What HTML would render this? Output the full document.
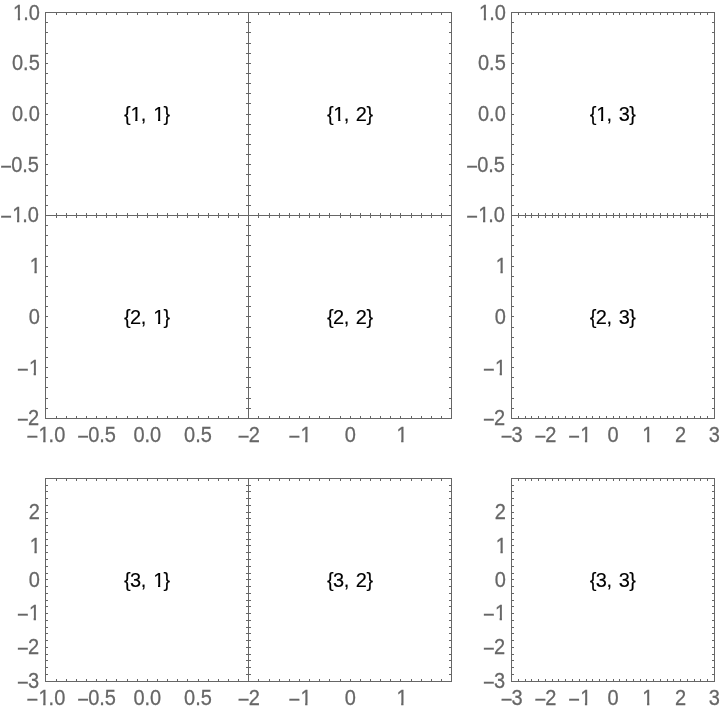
<!DOCTYPE html>
<html><head><meta charset="utf-8"><title>plot grid</title>
<style>
html,body{margin:0;padding:0;background:#fff;}
body{width:720px;height:710px;position:relative;overflow:hidden;font-family:"Liberation Sans",sans-serif;}
#g{position:absolute;left:0;top:0;width:720px;height:710px;will-change:transform;}
#g i{position:absolute;display:block;background:#666666;}
.t{position:absolute;font-size:20px;line-height:20px;height:20px;white-space:pre;color:#666666;}
.yl{text-align:right;transform-origin:50% 10px;-webkit-text-stroke:0.25px #666666;}
.xl{width:100px;text-align:center;transform-origin:50% 17px;-webkit-text-stroke:0.25px #666666;}
.o{display:inline-block;clip-path:polygon(0 0,100% 0,100% 15.2px,7.05px 15.2px,7.05px 100%,4.8px 100%,4.8px 15.2px,0 15.2px);}
.yl .o,.xl .o{position:relative;left:1px;}
.cl .o{position:relative;left:0.3px;}
.m{position:relative;margin-right:-0.8px;}
.yl .m{top:2px;}
.xl .m{top:2px;}
.cl{width:100px;text-align:center;color:#000;-webkit-text-stroke:0.15px #000;letter-spacing:-0.55px;word-spacing:2.2px;transform:scaleY(1.05);transform-origin:50% 20px;}
</style></head>
<body>
<div id="g">
<i style="left:45px;top:12px;width:1px;height:407px"></i><i style="left:248px;top:12px;width:1px;height:407px"></i><i style="left:451px;top:12px;width:1px;height:407px"></i><i style="left:511px;top:12px;width:1px;height:407px"></i><i style="left:714px;top:12px;width:1px;height:407px"></i><i style="left:45px;top:478px;width:1px;height:204px"></i><i style="left:248px;top:478px;width:1px;height:204px"></i><i style="left:451px;top:478px;width:1px;height:204px"></i><i style="left:511px;top:478px;width:1px;height:204px"></i><i style="left:714px;top:478px;width:1px;height:204px"></i><i style="left:45px;top:12px;width:407px;height:1px"></i><i style="left:45px;top:215px;width:407px;height:1px"></i><i style="left:45px;top:418px;width:407px;height:1px"></i><i style="left:45px;top:478px;width:407px;height:1px"></i><i style="left:45px;top:681px;width:407px;height:1px"></i><i style="left:511px;top:12px;width:204px;height:1px"></i><i style="left:511px;top:215px;width:204px;height:1px"></i><i style="left:511px;top:418px;width:204px;height:1px"></i><i style="left:511px;top:478px;width:204px;height:1px"></i><i style="left:511px;top:681px;width:204px;height:1px"></i><i style="left:56px;top:13px;width:1px;height:2px"></i><i style="left:56px;top:213px;width:1px;height:2px"></i><i style="left:66px;top:13px;width:1px;height:2px"></i><i style="left:66px;top:213px;width:1px;height:2px"></i><i style="left:76px;top:13px;width:1px;height:2px"></i><i style="left:76px;top:213px;width:1px;height:2px"></i><i style="left:86px;top:13px;width:1px;height:2px"></i><i style="left:86px;top:213px;width:1px;height:2px"></i><i style="left:96px;top:13px;width:1px;height:2px"></i><i style="left:96px;top:213px;width:1px;height:2px"></i><i style="left:106px;top:13px;width:1px;height:2px"></i><i style="left:106px;top:213px;width:1px;height:2px"></i><i style="left:116px;top:13px;width:1px;height:2px"></i><i style="left:116px;top:213px;width:1px;height:2px"></i><i style="left:127px;top:13px;width:1px;height:2px"></i><i style="left:127px;top:213px;width:1px;height:2px"></i><i style="left:137px;top:13px;width:1px;height:2px"></i><i style="left:137px;top:213px;width:1px;height:2px"></i><i style="left:147px;top:13px;width:1px;height:2px"></i><i style="left:147px;top:213px;width:1px;height:2px"></i><i style="left:157px;top:13px;width:1px;height:2px"></i><i style="left:157px;top:213px;width:1px;height:2px"></i><i style="left:167px;top:13px;width:1px;height:2px"></i><i style="left:167px;top:213px;width:1px;height:2px"></i><i style="left:177px;top:13px;width:1px;height:2px"></i><i style="left:177px;top:213px;width:1px;height:2px"></i><i style="left:187px;top:13px;width:1px;height:2px"></i><i style="left:187px;top:213px;width:1px;height:2px"></i><i style="left:198px;top:13px;width:1px;height:2px"></i><i style="left:198px;top:213px;width:1px;height:2px"></i><i style="left:208px;top:13px;width:1px;height:2px"></i><i style="left:208px;top:213px;width:1px;height:2px"></i><i style="left:218px;top:13px;width:1px;height:2px"></i><i style="left:218px;top:213px;width:1px;height:2px"></i><i style="left:228px;top:13px;width:1px;height:2px"></i><i style="left:228px;top:213px;width:1px;height:2px"></i><i style="left:238px;top:13px;width:1px;height:2px"></i><i style="left:238px;top:213px;width:1px;height:2px"></i><i style="left:46px;top:22px;width:2px;height:1px"></i><i style="left:246px;top:22px;width:2px;height:1px"></i><i style="left:46px;top:32px;width:2px;height:1px"></i><i style="left:246px;top:32px;width:2px;height:1px"></i><i style="left:46px;top:43px;width:2px;height:1px"></i><i style="left:246px;top:43px;width:2px;height:1px"></i><i style="left:46px;top:53px;width:2px;height:1px"></i><i style="left:246px;top:53px;width:2px;height:1px"></i><i style="left:46px;top:63px;width:2px;height:1px"></i><i style="left:246px;top:63px;width:2px;height:1px"></i><i style="left:46px;top:73px;width:2px;height:1px"></i><i style="left:246px;top:73px;width:2px;height:1px"></i><i style="left:46px;top:83px;width:2px;height:1px"></i><i style="left:246px;top:83px;width:2px;height:1px"></i><i style="left:46px;top:93px;width:2px;height:1px"></i><i style="left:246px;top:93px;width:2px;height:1px"></i><i style="left:46px;top:103px;width:2px;height:1px"></i><i style="left:246px;top:103px;width:2px;height:1px"></i><i style="left:46px;top:114px;width:2px;height:1px"></i><i style="left:246px;top:114px;width:2px;height:1px"></i><i style="left:46px;top:124px;width:2px;height:1px"></i><i style="left:246px;top:124px;width:2px;height:1px"></i><i style="left:46px;top:134px;width:2px;height:1px"></i><i style="left:246px;top:134px;width:2px;height:1px"></i><i style="left:46px;top:144px;width:2px;height:1px"></i><i style="left:246px;top:144px;width:2px;height:1px"></i><i style="left:46px;top:154px;width:2px;height:1px"></i><i style="left:246px;top:154px;width:2px;height:1px"></i><i style="left:46px;top:164px;width:2px;height:1px"></i><i style="left:246px;top:164px;width:2px;height:1px"></i><i style="left:46px;top:174px;width:2px;height:1px"></i><i style="left:246px;top:174px;width:2px;height:1px"></i><i style="left:46px;top:185px;width:2px;height:1px"></i><i style="left:246px;top:185px;width:2px;height:1px"></i><i style="left:46px;top:195px;width:2px;height:1px"></i><i style="left:246px;top:195px;width:2px;height:1px"></i><i style="left:46px;top:205px;width:2px;height:1px"></i><i style="left:246px;top:205px;width:2px;height:1px"></i><i style="left:258px;top:13px;width:1px;height:2px"></i><i style="left:258px;top:213px;width:1px;height:2px"></i><i style="left:269px;top:13px;width:1px;height:2px"></i><i style="left:269px;top:213px;width:1px;height:2px"></i><i style="left:279px;top:13px;width:1px;height:2px"></i><i style="left:279px;top:213px;width:1px;height:2px"></i><i style="left:289px;top:13px;width:1px;height:2px"></i><i style="left:289px;top:213px;width:1px;height:2px"></i><i style="left:299px;top:13px;width:1px;height:2px"></i><i style="left:299px;top:213px;width:1px;height:2px"></i><i style="left:309px;top:13px;width:1px;height:2px"></i><i style="left:309px;top:213px;width:1px;height:2px"></i><i style="left:319px;top:13px;width:1px;height:2px"></i><i style="left:319px;top:213px;width:1px;height:2px"></i><i style="left:329px;top:13px;width:1px;height:2px"></i><i style="left:329px;top:213px;width:1px;height:2px"></i><i style="left:340px;top:13px;width:1px;height:2px"></i><i style="left:340px;top:213px;width:1px;height:2px"></i><i style="left:350px;top:13px;width:1px;height:2px"></i><i style="left:350px;top:213px;width:1px;height:2px"></i><i style="left:360px;top:13px;width:1px;height:2px"></i><i style="left:360px;top:213px;width:1px;height:2px"></i><i style="left:370px;top:13px;width:1px;height:2px"></i><i style="left:370px;top:213px;width:1px;height:2px"></i><i style="left:380px;top:13px;width:1px;height:2px"></i><i style="left:380px;top:213px;width:1px;height:2px"></i><i style="left:390px;top:13px;width:1px;height:2px"></i><i style="left:390px;top:213px;width:1px;height:2px"></i><i style="left:400px;top:13px;width:1px;height:2px"></i><i style="left:400px;top:213px;width:1px;height:2px"></i><i style="left:411px;top:13px;width:1px;height:2px"></i><i style="left:411px;top:213px;width:1px;height:2px"></i><i style="left:421px;top:13px;width:1px;height:2px"></i><i style="left:421px;top:213px;width:1px;height:2px"></i><i style="left:431px;top:13px;width:1px;height:2px"></i><i style="left:431px;top:213px;width:1px;height:2px"></i><i style="left:441px;top:13px;width:1px;height:2px"></i><i style="left:441px;top:213px;width:1px;height:2px"></i><i style="left:249px;top:22px;width:2px;height:1px"></i><i style="left:449px;top:22px;width:2px;height:1px"></i><i style="left:249px;top:32px;width:2px;height:1px"></i><i style="left:449px;top:32px;width:2px;height:1px"></i><i style="left:249px;top:43px;width:2px;height:1px"></i><i style="left:449px;top:43px;width:2px;height:1px"></i><i style="left:249px;top:53px;width:2px;height:1px"></i><i style="left:449px;top:53px;width:2px;height:1px"></i><i style="left:249px;top:63px;width:2px;height:1px"></i><i style="left:449px;top:63px;width:2px;height:1px"></i><i style="left:249px;top:73px;width:2px;height:1px"></i><i style="left:449px;top:73px;width:2px;height:1px"></i><i style="left:249px;top:83px;width:2px;height:1px"></i><i style="left:449px;top:83px;width:2px;height:1px"></i><i style="left:249px;top:93px;width:2px;height:1px"></i><i style="left:449px;top:93px;width:2px;height:1px"></i><i style="left:249px;top:103px;width:2px;height:1px"></i><i style="left:449px;top:103px;width:2px;height:1px"></i><i style="left:249px;top:114px;width:2px;height:1px"></i><i style="left:449px;top:114px;width:2px;height:1px"></i><i style="left:249px;top:124px;width:2px;height:1px"></i><i style="left:449px;top:124px;width:2px;height:1px"></i><i style="left:249px;top:134px;width:2px;height:1px"></i><i style="left:449px;top:134px;width:2px;height:1px"></i><i style="left:249px;top:144px;width:2px;height:1px"></i><i style="left:449px;top:144px;width:2px;height:1px"></i><i style="left:249px;top:154px;width:2px;height:1px"></i><i style="left:449px;top:154px;width:2px;height:1px"></i><i style="left:249px;top:164px;width:2px;height:1px"></i><i style="left:449px;top:164px;width:2px;height:1px"></i><i style="left:249px;top:174px;width:2px;height:1px"></i><i style="left:449px;top:174px;width:2px;height:1px"></i><i style="left:249px;top:185px;width:2px;height:1px"></i><i style="left:449px;top:185px;width:2px;height:1px"></i><i style="left:249px;top:195px;width:2px;height:1px"></i><i style="left:449px;top:195px;width:2px;height:1px"></i><i style="left:249px;top:205px;width:2px;height:1px"></i><i style="left:449px;top:205px;width:2px;height:1px"></i><i style="left:518px;top:13px;width:1px;height:2px"></i><i style="left:518px;top:213px;width:1px;height:2px"></i><i style="left:525px;top:13px;width:1px;height:2px"></i><i style="left:525px;top:213px;width:1px;height:2px"></i><i style="left:531px;top:13px;width:1px;height:2px"></i><i style="left:531px;top:213px;width:1px;height:2px"></i><i style="left:538px;top:13px;width:1px;height:2px"></i><i style="left:538px;top:213px;width:1px;height:2px"></i><i style="left:545px;top:13px;width:1px;height:2px"></i><i style="left:545px;top:213px;width:1px;height:2px"></i><i style="left:552px;top:13px;width:1px;height:2px"></i><i style="left:552px;top:213px;width:1px;height:2px"></i><i style="left:558px;top:13px;width:1px;height:2px"></i><i style="left:558px;top:213px;width:1px;height:2px"></i><i style="left:565px;top:13px;width:1px;height:2px"></i><i style="left:565px;top:213px;width:1px;height:2px"></i><i style="left:572px;top:13px;width:1px;height:2px"></i><i style="left:572px;top:213px;width:1px;height:2px"></i><i style="left:579px;top:13px;width:1px;height:2px"></i><i style="left:579px;top:213px;width:1px;height:2px"></i><i style="left:586px;top:13px;width:1px;height:2px"></i><i style="left:586px;top:213px;width:1px;height:2px"></i><i style="left:592px;top:13px;width:1px;height:2px"></i><i style="left:592px;top:213px;width:1px;height:2px"></i><i style="left:599px;top:13px;width:1px;height:2px"></i><i style="left:599px;top:213px;width:1px;height:2px"></i><i style="left:606px;top:13px;width:1px;height:2px"></i><i style="left:606px;top:213px;width:1px;height:2px"></i><i style="left:613px;top:13px;width:1px;height:2px"></i><i style="left:613px;top:213px;width:1px;height:2px"></i><i style="left:619px;top:13px;width:1px;height:2px"></i><i style="left:619px;top:213px;width:1px;height:2px"></i><i style="left:626px;top:13px;width:1px;height:2px"></i><i style="left:626px;top:213px;width:1px;height:2px"></i><i style="left:633px;top:13px;width:1px;height:2px"></i><i style="left:633px;top:213px;width:1px;height:2px"></i><i style="left:640px;top:13px;width:1px;height:2px"></i><i style="left:640px;top:213px;width:1px;height:2px"></i><i style="left:646px;top:13px;width:1px;height:2px"></i><i style="left:646px;top:213px;width:1px;height:2px"></i><i style="left:653px;top:13px;width:1px;height:2px"></i><i style="left:653px;top:213px;width:1px;height:2px"></i><i style="left:660px;top:13px;width:1px;height:2px"></i><i style="left:660px;top:213px;width:1px;height:2px"></i><i style="left:667px;top:13px;width:1px;height:2px"></i><i style="left:667px;top:213px;width:1px;height:2px"></i><i style="left:673px;top:13px;width:1px;height:2px"></i><i style="left:673px;top:213px;width:1px;height:2px"></i><i style="left:680px;top:13px;width:1px;height:2px"></i><i style="left:680px;top:213px;width:1px;height:2px"></i><i style="left:687px;top:13px;width:1px;height:2px"></i><i style="left:687px;top:213px;width:1px;height:2px"></i><i style="left:694px;top:13px;width:1px;height:2px"></i><i style="left:694px;top:213px;width:1px;height:2px"></i><i style="left:700px;top:13px;width:1px;height:2px"></i><i style="left:700px;top:213px;width:1px;height:2px"></i><i style="left:707px;top:13px;width:1px;height:2px"></i><i style="left:707px;top:213px;width:1px;height:2px"></i><i style="left:512px;top:22px;width:2px;height:1px"></i><i style="left:712px;top:22px;width:2px;height:1px"></i><i style="left:512px;top:32px;width:2px;height:1px"></i><i style="left:712px;top:32px;width:2px;height:1px"></i><i style="left:512px;top:43px;width:2px;height:1px"></i><i style="left:712px;top:43px;width:2px;height:1px"></i><i style="left:512px;top:53px;width:2px;height:1px"></i><i style="left:712px;top:53px;width:2px;height:1px"></i><i style="left:512px;top:63px;width:2px;height:1px"></i><i style="left:712px;top:63px;width:2px;height:1px"></i><i style="left:512px;top:73px;width:2px;height:1px"></i><i style="left:712px;top:73px;width:2px;height:1px"></i><i style="left:512px;top:83px;width:2px;height:1px"></i><i style="left:712px;top:83px;width:2px;height:1px"></i><i style="left:512px;top:93px;width:2px;height:1px"></i><i style="left:712px;top:93px;width:2px;height:1px"></i><i style="left:512px;top:103px;width:2px;height:1px"></i><i style="left:712px;top:103px;width:2px;height:1px"></i><i style="left:512px;top:114px;width:2px;height:1px"></i><i style="left:712px;top:114px;width:2px;height:1px"></i><i style="left:512px;top:124px;width:2px;height:1px"></i><i style="left:712px;top:124px;width:2px;height:1px"></i><i style="left:512px;top:134px;width:2px;height:1px"></i><i style="left:712px;top:134px;width:2px;height:1px"></i><i style="left:512px;top:144px;width:2px;height:1px"></i><i style="left:712px;top:144px;width:2px;height:1px"></i><i style="left:512px;top:154px;width:2px;height:1px"></i><i style="left:712px;top:154px;width:2px;height:1px"></i><i style="left:512px;top:164px;width:2px;height:1px"></i><i style="left:712px;top:164px;width:2px;height:1px"></i><i style="left:512px;top:174px;width:2px;height:1px"></i><i style="left:712px;top:174px;width:2px;height:1px"></i><i style="left:512px;top:185px;width:2px;height:1px"></i><i style="left:712px;top:185px;width:2px;height:1px"></i><i style="left:512px;top:195px;width:2px;height:1px"></i><i style="left:712px;top:195px;width:2px;height:1px"></i><i style="left:512px;top:205px;width:2px;height:1px"></i><i style="left:712px;top:205px;width:2px;height:1px"></i><i style="left:56px;top:216px;width:1px;height:2px"></i><i style="left:56px;top:416px;width:1px;height:2px"></i><i style="left:66px;top:216px;width:1px;height:2px"></i><i style="left:66px;top:416px;width:1px;height:2px"></i><i style="left:76px;top:216px;width:1px;height:2px"></i><i style="left:76px;top:416px;width:1px;height:2px"></i><i style="left:86px;top:216px;width:1px;height:2px"></i><i style="left:86px;top:416px;width:1px;height:2px"></i><i style="left:96px;top:216px;width:1px;height:2px"></i><i style="left:96px;top:416px;width:1px;height:2px"></i><i style="left:106px;top:216px;width:1px;height:2px"></i><i style="left:106px;top:416px;width:1px;height:2px"></i><i style="left:116px;top:216px;width:1px;height:2px"></i><i style="left:116px;top:416px;width:1px;height:2px"></i><i style="left:127px;top:216px;width:1px;height:2px"></i><i style="left:127px;top:416px;width:1px;height:2px"></i><i style="left:137px;top:216px;width:1px;height:2px"></i><i style="left:137px;top:416px;width:1px;height:2px"></i><i style="left:147px;top:216px;width:1px;height:2px"></i><i style="left:147px;top:416px;width:1px;height:2px"></i><i style="left:157px;top:216px;width:1px;height:2px"></i><i style="left:157px;top:416px;width:1px;height:2px"></i><i style="left:167px;top:216px;width:1px;height:2px"></i><i style="left:167px;top:416px;width:1px;height:2px"></i><i style="left:177px;top:216px;width:1px;height:2px"></i><i style="left:177px;top:416px;width:1px;height:2px"></i><i style="left:187px;top:216px;width:1px;height:2px"></i><i style="left:187px;top:416px;width:1px;height:2px"></i><i style="left:198px;top:216px;width:1px;height:2px"></i><i style="left:198px;top:416px;width:1px;height:2px"></i><i style="left:208px;top:216px;width:1px;height:2px"></i><i style="left:208px;top:416px;width:1px;height:2px"></i><i style="left:218px;top:216px;width:1px;height:2px"></i><i style="left:218px;top:416px;width:1px;height:2px"></i><i style="left:228px;top:216px;width:1px;height:2px"></i><i style="left:228px;top:416px;width:1px;height:2px"></i><i style="left:238px;top:216px;width:1px;height:2px"></i><i style="left:238px;top:416px;width:1px;height:2px"></i><i style="left:46px;top:225px;width:2px;height:1px"></i><i style="left:246px;top:225px;width:2px;height:1px"></i><i style="left:46px;top:235px;width:2px;height:1px"></i><i style="left:246px;top:235px;width:2px;height:1px"></i><i style="left:46px;top:245px;width:2px;height:1px"></i><i style="left:246px;top:245px;width:2px;height:1px"></i><i style="left:46px;top:256px;width:2px;height:1px"></i><i style="left:246px;top:256px;width:2px;height:1px"></i><i style="left:46px;top:266px;width:2px;height:1px"></i><i style="left:246px;top:266px;width:2px;height:1px"></i><i style="left:46px;top:276px;width:2px;height:1px"></i><i style="left:246px;top:276px;width:2px;height:1px"></i><i style="left:46px;top:286px;width:2px;height:1px"></i><i style="left:246px;top:286px;width:2px;height:1px"></i><i style="left:46px;top:296px;width:2px;height:1px"></i><i style="left:246px;top:296px;width:2px;height:1px"></i><i style="left:46px;top:306px;width:2px;height:1px"></i><i style="left:246px;top:306px;width:2px;height:1px"></i><i style="left:46px;top:316px;width:2px;height:1px"></i><i style="left:246px;top:316px;width:2px;height:1px"></i><i style="left:46px;top:327px;width:2px;height:1px"></i><i style="left:246px;top:327px;width:2px;height:1px"></i><i style="left:46px;top:337px;width:2px;height:1px"></i><i style="left:246px;top:337px;width:2px;height:1px"></i><i style="left:46px;top:347px;width:2px;height:1px"></i><i style="left:246px;top:347px;width:2px;height:1px"></i><i style="left:46px;top:357px;width:2px;height:1px"></i><i style="left:246px;top:357px;width:2px;height:1px"></i><i style="left:46px;top:367px;width:2px;height:1px"></i><i style="left:246px;top:367px;width:2px;height:1px"></i><i style="left:46px;top:377px;width:2px;height:1px"></i><i style="left:246px;top:377px;width:2px;height:1px"></i><i style="left:46px;top:387px;width:2px;height:1px"></i><i style="left:246px;top:387px;width:2px;height:1px"></i><i style="left:46px;top:398px;width:2px;height:1px"></i><i style="left:246px;top:398px;width:2px;height:1px"></i><i style="left:46px;top:408px;width:2px;height:1px"></i><i style="left:246px;top:408px;width:2px;height:1px"></i><i style="left:258px;top:216px;width:1px;height:2px"></i><i style="left:258px;top:416px;width:1px;height:2px"></i><i style="left:269px;top:216px;width:1px;height:2px"></i><i style="left:269px;top:416px;width:1px;height:2px"></i><i style="left:279px;top:216px;width:1px;height:2px"></i><i style="left:279px;top:416px;width:1px;height:2px"></i><i style="left:289px;top:216px;width:1px;height:2px"></i><i style="left:289px;top:416px;width:1px;height:2px"></i><i style="left:299px;top:216px;width:1px;height:2px"></i><i style="left:299px;top:416px;width:1px;height:2px"></i><i style="left:309px;top:216px;width:1px;height:2px"></i><i style="left:309px;top:416px;width:1px;height:2px"></i><i style="left:319px;top:216px;width:1px;height:2px"></i><i style="left:319px;top:416px;width:1px;height:2px"></i><i style="left:329px;top:216px;width:1px;height:2px"></i><i style="left:329px;top:416px;width:1px;height:2px"></i><i style="left:340px;top:216px;width:1px;height:2px"></i><i style="left:340px;top:416px;width:1px;height:2px"></i><i style="left:350px;top:216px;width:1px;height:2px"></i><i style="left:350px;top:416px;width:1px;height:2px"></i><i style="left:360px;top:216px;width:1px;height:2px"></i><i style="left:360px;top:416px;width:1px;height:2px"></i><i style="left:370px;top:216px;width:1px;height:2px"></i><i style="left:370px;top:416px;width:1px;height:2px"></i><i style="left:380px;top:216px;width:1px;height:2px"></i><i style="left:380px;top:416px;width:1px;height:2px"></i><i style="left:390px;top:216px;width:1px;height:2px"></i><i style="left:390px;top:416px;width:1px;height:2px"></i><i style="left:400px;top:216px;width:1px;height:2px"></i><i style="left:400px;top:416px;width:1px;height:2px"></i><i style="left:411px;top:216px;width:1px;height:2px"></i><i style="left:411px;top:416px;width:1px;height:2px"></i><i style="left:421px;top:216px;width:1px;height:2px"></i><i style="left:421px;top:416px;width:1px;height:2px"></i><i style="left:431px;top:216px;width:1px;height:2px"></i><i style="left:431px;top:416px;width:1px;height:2px"></i><i style="left:441px;top:216px;width:1px;height:2px"></i><i style="left:441px;top:416px;width:1px;height:2px"></i><i style="left:249px;top:225px;width:2px;height:1px"></i><i style="left:449px;top:225px;width:2px;height:1px"></i><i style="left:249px;top:235px;width:2px;height:1px"></i><i style="left:449px;top:235px;width:2px;height:1px"></i><i style="left:249px;top:245px;width:2px;height:1px"></i><i style="left:449px;top:245px;width:2px;height:1px"></i><i style="left:249px;top:256px;width:2px;height:1px"></i><i style="left:449px;top:256px;width:2px;height:1px"></i><i style="left:249px;top:266px;width:2px;height:1px"></i><i style="left:449px;top:266px;width:2px;height:1px"></i><i style="left:249px;top:276px;width:2px;height:1px"></i><i style="left:449px;top:276px;width:2px;height:1px"></i><i style="left:249px;top:286px;width:2px;height:1px"></i><i style="left:449px;top:286px;width:2px;height:1px"></i><i style="left:249px;top:296px;width:2px;height:1px"></i><i style="left:449px;top:296px;width:2px;height:1px"></i><i style="left:249px;top:306px;width:2px;height:1px"></i><i style="left:449px;top:306px;width:2px;height:1px"></i><i style="left:249px;top:316px;width:2px;height:1px"></i><i style="left:449px;top:316px;width:2px;height:1px"></i><i style="left:249px;top:327px;width:2px;height:1px"></i><i style="left:449px;top:327px;width:2px;height:1px"></i><i style="left:249px;top:337px;width:2px;height:1px"></i><i style="left:449px;top:337px;width:2px;height:1px"></i><i style="left:249px;top:347px;width:2px;height:1px"></i><i style="left:449px;top:347px;width:2px;height:1px"></i><i style="left:249px;top:357px;width:2px;height:1px"></i><i style="left:449px;top:357px;width:2px;height:1px"></i><i style="left:249px;top:367px;width:2px;height:1px"></i><i style="left:449px;top:367px;width:2px;height:1px"></i><i style="left:249px;top:377px;width:2px;height:1px"></i><i style="left:449px;top:377px;width:2px;height:1px"></i><i style="left:249px;top:387px;width:2px;height:1px"></i><i style="left:449px;top:387px;width:2px;height:1px"></i><i style="left:249px;top:398px;width:2px;height:1px"></i><i style="left:449px;top:398px;width:2px;height:1px"></i><i style="left:249px;top:408px;width:2px;height:1px"></i><i style="left:449px;top:408px;width:2px;height:1px"></i><i style="left:518px;top:216px;width:1px;height:2px"></i><i style="left:518px;top:416px;width:1px;height:2px"></i><i style="left:525px;top:216px;width:1px;height:2px"></i><i style="left:525px;top:416px;width:1px;height:2px"></i><i style="left:531px;top:216px;width:1px;height:2px"></i><i style="left:531px;top:416px;width:1px;height:2px"></i><i style="left:538px;top:216px;width:1px;height:2px"></i><i style="left:538px;top:416px;width:1px;height:2px"></i><i style="left:545px;top:216px;width:1px;height:2px"></i><i style="left:545px;top:416px;width:1px;height:2px"></i><i style="left:552px;top:216px;width:1px;height:2px"></i><i style="left:552px;top:416px;width:1px;height:2px"></i><i style="left:558px;top:216px;width:1px;height:2px"></i><i style="left:558px;top:416px;width:1px;height:2px"></i><i style="left:565px;top:216px;width:1px;height:2px"></i><i style="left:565px;top:416px;width:1px;height:2px"></i><i style="left:572px;top:216px;width:1px;height:2px"></i><i style="left:572px;top:416px;width:1px;height:2px"></i><i style="left:579px;top:216px;width:1px;height:2px"></i><i style="left:579px;top:416px;width:1px;height:2px"></i><i style="left:586px;top:216px;width:1px;height:2px"></i><i style="left:586px;top:416px;width:1px;height:2px"></i><i style="left:592px;top:216px;width:1px;height:2px"></i><i style="left:592px;top:416px;width:1px;height:2px"></i><i style="left:599px;top:216px;width:1px;height:2px"></i><i style="left:599px;top:416px;width:1px;height:2px"></i><i style="left:606px;top:216px;width:1px;height:2px"></i><i style="left:606px;top:416px;width:1px;height:2px"></i><i style="left:613px;top:216px;width:1px;height:2px"></i><i style="left:613px;top:416px;width:1px;height:2px"></i><i style="left:619px;top:216px;width:1px;height:2px"></i><i style="left:619px;top:416px;width:1px;height:2px"></i><i style="left:626px;top:216px;width:1px;height:2px"></i><i style="left:626px;top:416px;width:1px;height:2px"></i><i style="left:633px;top:216px;width:1px;height:2px"></i><i style="left:633px;top:416px;width:1px;height:2px"></i><i style="left:640px;top:216px;width:1px;height:2px"></i><i style="left:640px;top:416px;width:1px;height:2px"></i><i style="left:646px;top:216px;width:1px;height:2px"></i><i style="left:646px;top:416px;width:1px;height:2px"></i><i style="left:653px;top:216px;width:1px;height:2px"></i><i style="left:653px;top:416px;width:1px;height:2px"></i><i style="left:660px;top:216px;width:1px;height:2px"></i><i style="left:660px;top:416px;width:1px;height:2px"></i><i style="left:667px;top:216px;width:1px;height:2px"></i><i style="left:667px;top:416px;width:1px;height:2px"></i><i style="left:673px;top:216px;width:1px;height:2px"></i><i style="left:673px;top:416px;width:1px;height:2px"></i><i style="left:680px;top:216px;width:1px;height:2px"></i><i style="left:680px;top:416px;width:1px;height:2px"></i><i style="left:687px;top:216px;width:1px;height:2px"></i><i style="left:687px;top:416px;width:1px;height:2px"></i><i style="left:694px;top:216px;width:1px;height:2px"></i><i style="left:694px;top:416px;width:1px;height:2px"></i><i style="left:700px;top:216px;width:1px;height:2px"></i><i style="left:700px;top:416px;width:1px;height:2px"></i><i style="left:707px;top:216px;width:1px;height:2px"></i><i style="left:707px;top:416px;width:1px;height:2px"></i><i style="left:512px;top:225px;width:2px;height:1px"></i><i style="left:712px;top:225px;width:2px;height:1px"></i><i style="left:512px;top:235px;width:2px;height:1px"></i><i style="left:712px;top:235px;width:2px;height:1px"></i><i style="left:512px;top:245px;width:2px;height:1px"></i><i style="left:712px;top:245px;width:2px;height:1px"></i><i style="left:512px;top:256px;width:2px;height:1px"></i><i style="left:712px;top:256px;width:2px;height:1px"></i><i style="left:512px;top:266px;width:2px;height:1px"></i><i style="left:712px;top:266px;width:2px;height:1px"></i><i style="left:512px;top:276px;width:2px;height:1px"></i><i style="left:712px;top:276px;width:2px;height:1px"></i><i style="left:512px;top:286px;width:2px;height:1px"></i><i style="left:712px;top:286px;width:2px;height:1px"></i><i style="left:512px;top:296px;width:2px;height:1px"></i><i style="left:712px;top:296px;width:2px;height:1px"></i><i style="left:512px;top:306px;width:2px;height:1px"></i><i style="left:712px;top:306px;width:2px;height:1px"></i><i style="left:512px;top:316px;width:2px;height:1px"></i><i style="left:712px;top:316px;width:2px;height:1px"></i><i style="left:512px;top:327px;width:2px;height:1px"></i><i style="left:712px;top:327px;width:2px;height:1px"></i><i style="left:512px;top:337px;width:2px;height:1px"></i><i style="left:712px;top:337px;width:2px;height:1px"></i><i style="left:512px;top:347px;width:2px;height:1px"></i><i style="left:712px;top:347px;width:2px;height:1px"></i><i style="left:512px;top:357px;width:2px;height:1px"></i><i style="left:712px;top:357px;width:2px;height:1px"></i><i style="left:512px;top:367px;width:2px;height:1px"></i><i style="left:712px;top:367px;width:2px;height:1px"></i><i style="left:512px;top:377px;width:2px;height:1px"></i><i style="left:712px;top:377px;width:2px;height:1px"></i><i style="left:512px;top:387px;width:2px;height:1px"></i><i style="left:712px;top:387px;width:2px;height:1px"></i><i style="left:512px;top:398px;width:2px;height:1px"></i><i style="left:712px;top:398px;width:2px;height:1px"></i><i style="left:512px;top:408px;width:2px;height:1px"></i><i style="left:712px;top:408px;width:2px;height:1px"></i><i style="left:56px;top:479px;width:1px;height:2px"></i><i style="left:56px;top:679px;width:1px;height:2px"></i><i style="left:66px;top:479px;width:1px;height:2px"></i><i style="left:66px;top:679px;width:1px;height:2px"></i><i style="left:76px;top:479px;width:1px;height:2px"></i><i style="left:76px;top:679px;width:1px;height:2px"></i><i style="left:86px;top:479px;width:1px;height:2px"></i><i style="left:86px;top:679px;width:1px;height:2px"></i><i style="left:96px;top:479px;width:1px;height:2px"></i><i style="left:96px;top:679px;width:1px;height:2px"></i><i style="left:106px;top:479px;width:1px;height:2px"></i><i style="left:106px;top:679px;width:1px;height:2px"></i><i style="left:116px;top:479px;width:1px;height:2px"></i><i style="left:116px;top:679px;width:1px;height:2px"></i><i style="left:127px;top:479px;width:1px;height:2px"></i><i style="left:127px;top:679px;width:1px;height:2px"></i><i style="left:137px;top:479px;width:1px;height:2px"></i><i style="left:137px;top:679px;width:1px;height:2px"></i><i style="left:147px;top:479px;width:1px;height:2px"></i><i style="left:147px;top:679px;width:1px;height:2px"></i><i style="left:157px;top:479px;width:1px;height:2px"></i><i style="left:157px;top:679px;width:1px;height:2px"></i><i style="left:167px;top:479px;width:1px;height:2px"></i><i style="left:167px;top:679px;width:1px;height:2px"></i><i style="left:177px;top:479px;width:1px;height:2px"></i><i style="left:177px;top:679px;width:1px;height:2px"></i><i style="left:187px;top:479px;width:1px;height:2px"></i><i style="left:187px;top:679px;width:1px;height:2px"></i><i style="left:198px;top:479px;width:1px;height:2px"></i><i style="left:198px;top:679px;width:1px;height:2px"></i><i style="left:208px;top:479px;width:1px;height:2px"></i><i style="left:208px;top:679px;width:1px;height:2px"></i><i style="left:218px;top:479px;width:1px;height:2px"></i><i style="left:218px;top:679px;width:1px;height:2px"></i><i style="left:228px;top:479px;width:1px;height:2px"></i><i style="left:228px;top:679px;width:1px;height:2px"></i><i style="left:238px;top:479px;width:1px;height:2px"></i><i style="left:238px;top:679px;width:1px;height:2px"></i><i style="left:46px;top:485px;width:2px;height:1px"></i><i style="left:246px;top:485px;width:2px;height:1px"></i><i style="left:46px;top:491px;width:2px;height:1px"></i><i style="left:246px;top:491px;width:2px;height:1px"></i><i style="left:46px;top:498px;width:2px;height:1px"></i><i style="left:246px;top:498px;width:2px;height:1px"></i><i style="left:46px;top:505px;width:2px;height:1px"></i><i style="left:246px;top:505px;width:2px;height:1px"></i><i style="left:46px;top:512px;width:2px;height:1px"></i><i style="left:246px;top:512px;width:2px;height:1px"></i><i style="left:46px;top:518px;width:2px;height:1px"></i><i style="left:246px;top:518px;width:2px;height:1px"></i><i style="left:46px;top:525px;width:2px;height:1px"></i><i style="left:246px;top:525px;width:2px;height:1px"></i><i style="left:46px;top:532px;width:2px;height:1px"></i><i style="left:246px;top:532px;width:2px;height:1px"></i><i style="left:46px;top:539px;width:2px;height:1px"></i><i style="left:246px;top:539px;width:2px;height:1px"></i><i style="left:46px;top:545px;width:2px;height:1px"></i><i style="left:246px;top:545px;width:2px;height:1px"></i><i style="left:46px;top:552px;width:2px;height:1px"></i><i style="left:246px;top:552px;width:2px;height:1px"></i><i style="left:46px;top:559px;width:2px;height:1px"></i><i style="left:246px;top:559px;width:2px;height:1px"></i><i style="left:46px;top:566px;width:2px;height:1px"></i><i style="left:246px;top:566px;width:2px;height:1px"></i><i style="left:46px;top:573px;width:2px;height:1px"></i><i style="left:246px;top:573px;width:2px;height:1px"></i><i style="left:46px;top:579px;width:2px;height:1px"></i><i style="left:246px;top:579px;width:2px;height:1px"></i><i style="left:46px;top:586px;width:2px;height:1px"></i><i style="left:246px;top:586px;width:2px;height:1px"></i><i style="left:46px;top:593px;width:2px;height:1px"></i><i style="left:246px;top:593px;width:2px;height:1px"></i><i style="left:46px;top:600px;width:2px;height:1px"></i><i style="left:246px;top:600px;width:2px;height:1px"></i><i style="left:46px;top:606px;width:2px;height:1px"></i><i style="left:246px;top:606px;width:2px;height:1px"></i><i style="left:46px;top:613px;width:2px;height:1px"></i><i style="left:246px;top:613px;width:2px;height:1px"></i><i style="left:46px;top:620px;width:2px;height:1px"></i><i style="left:246px;top:620px;width:2px;height:1px"></i><i style="left:46px;top:627px;width:2px;height:1px"></i><i style="left:246px;top:627px;width:2px;height:1px"></i><i style="left:46px;top:633px;width:2px;height:1px"></i><i style="left:246px;top:633px;width:2px;height:1px"></i><i style="left:46px;top:640px;width:2px;height:1px"></i><i style="left:246px;top:640px;width:2px;height:1px"></i><i style="left:46px;top:647px;width:2px;height:1px"></i><i style="left:246px;top:647px;width:2px;height:1px"></i><i style="left:46px;top:654px;width:2px;height:1px"></i><i style="left:246px;top:654px;width:2px;height:1px"></i><i style="left:46px;top:660px;width:2px;height:1px"></i><i style="left:246px;top:660px;width:2px;height:1px"></i><i style="left:46px;top:667px;width:2px;height:1px"></i><i style="left:246px;top:667px;width:2px;height:1px"></i><i style="left:46px;top:674px;width:2px;height:1px"></i><i style="left:246px;top:674px;width:2px;height:1px"></i><i style="left:258px;top:479px;width:1px;height:2px"></i><i style="left:258px;top:679px;width:1px;height:2px"></i><i style="left:269px;top:479px;width:1px;height:2px"></i><i style="left:269px;top:679px;width:1px;height:2px"></i><i style="left:279px;top:479px;width:1px;height:2px"></i><i style="left:279px;top:679px;width:1px;height:2px"></i><i style="left:289px;top:479px;width:1px;height:2px"></i><i style="left:289px;top:679px;width:1px;height:2px"></i><i style="left:299px;top:479px;width:1px;height:2px"></i><i style="left:299px;top:679px;width:1px;height:2px"></i><i style="left:309px;top:479px;width:1px;height:2px"></i><i style="left:309px;top:679px;width:1px;height:2px"></i><i style="left:319px;top:479px;width:1px;height:2px"></i><i style="left:319px;top:679px;width:1px;height:2px"></i><i style="left:329px;top:479px;width:1px;height:2px"></i><i style="left:329px;top:679px;width:1px;height:2px"></i><i style="left:340px;top:479px;width:1px;height:2px"></i><i style="left:340px;top:679px;width:1px;height:2px"></i><i style="left:350px;top:479px;width:1px;height:2px"></i><i style="left:350px;top:679px;width:1px;height:2px"></i><i style="left:360px;top:479px;width:1px;height:2px"></i><i style="left:360px;top:679px;width:1px;height:2px"></i><i style="left:370px;top:479px;width:1px;height:2px"></i><i style="left:370px;top:679px;width:1px;height:2px"></i><i style="left:380px;top:479px;width:1px;height:2px"></i><i style="left:380px;top:679px;width:1px;height:2px"></i><i style="left:390px;top:479px;width:1px;height:2px"></i><i style="left:390px;top:679px;width:1px;height:2px"></i><i style="left:400px;top:479px;width:1px;height:2px"></i><i style="left:400px;top:679px;width:1px;height:2px"></i><i style="left:411px;top:479px;width:1px;height:2px"></i><i style="left:411px;top:679px;width:1px;height:2px"></i><i style="left:421px;top:479px;width:1px;height:2px"></i><i style="left:421px;top:679px;width:1px;height:2px"></i><i style="left:431px;top:479px;width:1px;height:2px"></i><i style="left:431px;top:679px;width:1px;height:2px"></i><i style="left:441px;top:479px;width:1px;height:2px"></i><i style="left:441px;top:679px;width:1px;height:2px"></i><i style="left:249px;top:485px;width:2px;height:1px"></i><i style="left:449px;top:485px;width:2px;height:1px"></i><i style="left:249px;top:491px;width:2px;height:1px"></i><i style="left:449px;top:491px;width:2px;height:1px"></i><i style="left:249px;top:498px;width:2px;height:1px"></i><i style="left:449px;top:498px;width:2px;height:1px"></i><i style="left:249px;top:505px;width:2px;height:1px"></i><i style="left:449px;top:505px;width:2px;height:1px"></i><i style="left:249px;top:512px;width:2px;height:1px"></i><i style="left:449px;top:512px;width:2px;height:1px"></i><i style="left:249px;top:518px;width:2px;height:1px"></i><i style="left:449px;top:518px;width:2px;height:1px"></i><i style="left:249px;top:525px;width:2px;height:1px"></i><i style="left:449px;top:525px;width:2px;height:1px"></i><i style="left:249px;top:532px;width:2px;height:1px"></i><i style="left:449px;top:532px;width:2px;height:1px"></i><i style="left:249px;top:539px;width:2px;height:1px"></i><i style="left:449px;top:539px;width:2px;height:1px"></i><i style="left:249px;top:545px;width:2px;height:1px"></i><i style="left:449px;top:545px;width:2px;height:1px"></i><i style="left:249px;top:552px;width:2px;height:1px"></i><i style="left:449px;top:552px;width:2px;height:1px"></i><i style="left:249px;top:559px;width:2px;height:1px"></i><i style="left:449px;top:559px;width:2px;height:1px"></i><i style="left:249px;top:566px;width:2px;height:1px"></i><i style="left:449px;top:566px;width:2px;height:1px"></i><i style="left:249px;top:573px;width:2px;height:1px"></i><i style="left:449px;top:573px;width:2px;height:1px"></i><i style="left:249px;top:579px;width:2px;height:1px"></i><i style="left:449px;top:579px;width:2px;height:1px"></i><i style="left:249px;top:586px;width:2px;height:1px"></i><i style="left:449px;top:586px;width:2px;height:1px"></i><i style="left:249px;top:593px;width:2px;height:1px"></i><i style="left:449px;top:593px;width:2px;height:1px"></i><i style="left:249px;top:600px;width:2px;height:1px"></i><i style="left:449px;top:600px;width:2px;height:1px"></i><i style="left:249px;top:606px;width:2px;height:1px"></i><i style="left:449px;top:606px;width:2px;height:1px"></i><i style="left:249px;top:613px;width:2px;height:1px"></i><i style="left:449px;top:613px;width:2px;height:1px"></i><i style="left:249px;top:620px;width:2px;height:1px"></i><i style="left:449px;top:620px;width:2px;height:1px"></i><i style="left:249px;top:627px;width:2px;height:1px"></i><i style="left:449px;top:627px;width:2px;height:1px"></i><i style="left:249px;top:633px;width:2px;height:1px"></i><i style="left:449px;top:633px;width:2px;height:1px"></i><i style="left:249px;top:640px;width:2px;height:1px"></i><i style="left:449px;top:640px;width:2px;height:1px"></i><i style="left:249px;top:647px;width:2px;height:1px"></i><i style="left:449px;top:647px;width:2px;height:1px"></i><i style="left:249px;top:654px;width:2px;height:1px"></i><i style="left:449px;top:654px;width:2px;height:1px"></i><i style="left:249px;top:660px;width:2px;height:1px"></i><i style="left:449px;top:660px;width:2px;height:1px"></i><i style="left:249px;top:667px;width:2px;height:1px"></i><i style="left:449px;top:667px;width:2px;height:1px"></i><i style="left:249px;top:674px;width:2px;height:1px"></i><i style="left:449px;top:674px;width:2px;height:1px"></i><i style="left:518px;top:479px;width:1px;height:2px"></i><i style="left:518px;top:679px;width:1px;height:2px"></i><i style="left:525px;top:479px;width:1px;height:2px"></i><i style="left:525px;top:679px;width:1px;height:2px"></i><i style="left:531px;top:479px;width:1px;height:2px"></i><i style="left:531px;top:679px;width:1px;height:2px"></i><i style="left:538px;top:479px;width:1px;height:2px"></i><i style="left:538px;top:679px;width:1px;height:2px"></i><i style="left:545px;top:479px;width:1px;height:2px"></i><i style="left:545px;top:679px;width:1px;height:2px"></i><i style="left:552px;top:479px;width:1px;height:2px"></i><i style="left:552px;top:679px;width:1px;height:2px"></i><i style="left:558px;top:479px;width:1px;height:2px"></i><i style="left:558px;top:679px;width:1px;height:2px"></i><i style="left:565px;top:479px;width:1px;height:2px"></i><i style="left:565px;top:679px;width:1px;height:2px"></i><i style="left:572px;top:479px;width:1px;height:2px"></i><i style="left:572px;top:679px;width:1px;height:2px"></i><i style="left:579px;top:479px;width:1px;height:2px"></i><i style="left:579px;top:679px;width:1px;height:2px"></i><i style="left:586px;top:479px;width:1px;height:2px"></i><i style="left:586px;top:679px;width:1px;height:2px"></i><i style="left:592px;top:479px;width:1px;height:2px"></i><i style="left:592px;top:679px;width:1px;height:2px"></i><i style="left:599px;top:479px;width:1px;height:2px"></i><i style="left:599px;top:679px;width:1px;height:2px"></i><i style="left:606px;top:479px;width:1px;height:2px"></i><i style="left:606px;top:679px;width:1px;height:2px"></i><i style="left:613px;top:479px;width:1px;height:2px"></i><i style="left:613px;top:679px;width:1px;height:2px"></i><i style="left:619px;top:479px;width:1px;height:2px"></i><i style="left:619px;top:679px;width:1px;height:2px"></i><i style="left:626px;top:479px;width:1px;height:2px"></i><i style="left:626px;top:679px;width:1px;height:2px"></i><i style="left:633px;top:479px;width:1px;height:2px"></i><i style="left:633px;top:679px;width:1px;height:2px"></i><i style="left:640px;top:479px;width:1px;height:2px"></i><i style="left:640px;top:679px;width:1px;height:2px"></i><i style="left:646px;top:479px;width:1px;height:2px"></i><i style="left:646px;top:679px;width:1px;height:2px"></i><i style="left:653px;top:479px;width:1px;height:2px"></i><i style="left:653px;top:679px;width:1px;height:2px"></i><i style="left:660px;top:479px;width:1px;height:2px"></i><i style="left:660px;top:679px;width:1px;height:2px"></i><i style="left:667px;top:479px;width:1px;height:2px"></i><i style="left:667px;top:679px;width:1px;height:2px"></i><i style="left:673px;top:479px;width:1px;height:2px"></i><i style="left:673px;top:679px;width:1px;height:2px"></i><i style="left:680px;top:479px;width:1px;height:2px"></i><i style="left:680px;top:679px;width:1px;height:2px"></i><i style="left:687px;top:479px;width:1px;height:2px"></i><i style="left:687px;top:679px;width:1px;height:2px"></i><i style="left:694px;top:479px;width:1px;height:2px"></i><i style="left:694px;top:679px;width:1px;height:2px"></i><i style="left:700px;top:479px;width:1px;height:2px"></i><i style="left:700px;top:679px;width:1px;height:2px"></i><i style="left:707px;top:479px;width:1px;height:2px"></i><i style="left:707px;top:679px;width:1px;height:2px"></i><i style="left:512px;top:485px;width:2px;height:1px"></i><i style="left:712px;top:485px;width:2px;height:1px"></i><i style="left:512px;top:491px;width:2px;height:1px"></i><i style="left:712px;top:491px;width:2px;height:1px"></i><i style="left:512px;top:498px;width:2px;height:1px"></i><i style="left:712px;top:498px;width:2px;height:1px"></i><i style="left:512px;top:505px;width:2px;height:1px"></i><i style="left:712px;top:505px;width:2px;height:1px"></i><i style="left:512px;top:512px;width:2px;height:1px"></i><i style="left:712px;top:512px;width:2px;height:1px"></i><i style="left:512px;top:518px;width:2px;height:1px"></i><i style="left:712px;top:518px;width:2px;height:1px"></i><i style="left:512px;top:525px;width:2px;height:1px"></i><i style="left:712px;top:525px;width:2px;height:1px"></i><i style="left:512px;top:532px;width:2px;height:1px"></i><i style="left:712px;top:532px;width:2px;height:1px"></i><i style="left:512px;top:539px;width:2px;height:1px"></i><i style="left:712px;top:539px;width:2px;height:1px"></i><i style="left:512px;top:545px;width:2px;height:1px"></i><i style="left:712px;top:545px;width:2px;height:1px"></i><i style="left:512px;top:552px;width:2px;height:1px"></i><i style="left:712px;top:552px;width:2px;height:1px"></i><i style="left:512px;top:559px;width:2px;height:1px"></i><i style="left:712px;top:559px;width:2px;height:1px"></i><i style="left:512px;top:566px;width:2px;height:1px"></i><i style="left:712px;top:566px;width:2px;height:1px"></i><i style="left:512px;top:573px;width:2px;height:1px"></i><i style="left:712px;top:573px;width:2px;height:1px"></i><i style="left:512px;top:579px;width:2px;height:1px"></i><i style="left:712px;top:579px;width:2px;height:1px"></i><i style="left:512px;top:586px;width:2px;height:1px"></i><i style="left:712px;top:586px;width:2px;height:1px"></i><i style="left:512px;top:593px;width:2px;height:1px"></i><i style="left:712px;top:593px;width:2px;height:1px"></i><i style="left:512px;top:600px;width:2px;height:1px"></i><i style="left:712px;top:600px;width:2px;height:1px"></i><i style="left:512px;top:606px;width:2px;height:1px"></i><i style="left:712px;top:606px;width:2px;height:1px"></i><i style="left:512px;top:613px;width:2px;height:1px"></i><i style="left:712px;top:613px;width:2px;height:1px"></i><i style="left:512px;top:620px;width:2px;height:1px"></i><i style="left:712px;top:620px;width:2px;height:1px"></i><i style="left:512px;top:627px;width:2px;height:1px"></i><i style="left:712px;top:627px;width:2px;height:1px"></i><i style="left:512px;top:633px;width:2px;height:1px"></i><i style="left:712px;top:633px;width:2px;height:1px"></i><i style="left:512px;top:640px;width:2px;height:1px"></i><i style="left:712px;top:640px;width:2px;height:1px"></i><i style="left:512px;top:647px;width:2px;height:1px"></i><i style="left:712px;top:647px;width:2px;height:1px"></i><i style="left:512px;top:654px;width:2px;height:1px"></i><i style="left:712px;top:654px;width:2px;height:1px"></i><i style="left:512px;top:660px;width:2px;height:1px"></i><i style="left:712px;top:660px;width:2px;height:1px"></i><i style="left:512px;top:667px;width:2px;height:1px"></i><i style="left:712px;top:667px;width:2px;height:1px"></i><i style="left:512px;top:674px;width:2px;height:1px"></i><i style="left:712px;top:674px;width:2px;height:1px"></i>
<span class="t yl" style="right:680.20px;top:2px;transform:scaleY(1.09)"><span class="o">1</span>.0</span>
<span class="t yl" style="right:680.20px;top:52px;transform:scaleY(1.09)">0.5</span>
<span class="t yl" style="right:680.20px;top:103px;transform:scaleY(1.09)">0.0</span>
<span class="t yl" style="right:681.00px;top:154px;transform:scaleY(1.09)"><span class="m">−</span>0.5</span>
<span class="t yl" style="right:681.00px;top:204px;transform:scaleY(1.09)"><span class="m">−</span><span class="o">1</span>.0</span>
<span class="t yl" style="right:214.20px;top:2px;transform:scaleY(1.09)"><span class="o">1</span>.0</span>
<span class="t yl" style="right:214.20px;top:52px;transform:scaleY(1.09)">0.5</span>
<span class="t yl" style="right:214.20px;top:103px;transform:scaleY(1.09)">0.0</span>
<span class="t yl" style="right:215.00px;top:154px;transform:scaleY(1.09)"><span class="m">−</span>0.5</span>
<span class="t yl" style="right:215.00px;top:204px;transform:scaleY(1.09)"><span class="m">−</span><span class="o">1</span>.0</span>
<span class="t yl" style="right:680.20px;top:255px;transform:scaleY(1.09)"><span class="o">1</span></span>
<span class="t yl" style="right:680.20px;top:306px;transform:scaleY(1.09)">0</span>
<span class="t yl" style="right:681.00px;top:357px;transform:scaleY(1.09)"><span class="m">−</span><span class="o">1</span></span>
<span class="t yl" style="right:681.00px;top:407px;transform:scaleY(1.09)"><span class="m">−</span>2</span>
<span class="t yl" style="right:214.20px;top:255px;transform:scaleY(1.09)"><span class="o">1</span></span>
<span class="t yl" style="right:214.20px;top:306px;transform:scaleY(1.09)">0</span>
<span class="t yl" style="right:215.00px;top:357px;transform:scaleY(1.09)"><span class="m">−</span><span class="o">1</span></span>
<span class="t yl" style="right:215.00px;top:407px;transform:scaleY(1.09)"><span class="m">−</span>2</span>
<span class="t yl" style="right:680.20px;top:501px;transform:scaleY(1.09)">2</span>
<span class="t yl" style="right:680.20px;top:535px;transform:scaleY(1.09)"><span class="o">1</span></span>
<span class="t yl" style="right:680.20px;top:569px;transform:scaleY(1.09)">0</span>
<span class="t yl" style="right:681.00px;top:602px;transform:scaleY(1.09)"><span class="m">−</span><span class="o">1</span></span>
<span class="t yl" style="right:681.00px;top:636px;transform:scaleY(1.09)"><span class="m">−</span>2</span>
<span class="t yl" style="right:681.00px;top:670px;transform:scaleY(1.09)"><span class="m">−</span>3</span>
<span class="t yl" style="right:214.20px;top:501px;transform:scaleY(1.09)">2</span>
<span class="t yl" style="right:214.20px;top:535px;transform:scaleY(1.09)"><span class="o">1</span></span>
<span class="t yl" style="right:214.20px;top:569px;transform:scaleY(1.09)">0</span>
<span class="t yl" style="right:215.00px;top:602px;transform:scaleY(1.09)"><span class="m">−</span><span class="o">1</span></span>
<span class="t yl" style="right:215.00px;top:636px;transform:scaleY(1.09)"><span class="m">−</span>2</span>
<span class="t yl" style="right:215.00px;top:670px;transform:scaleY(1.09)"><span class="m">−</span>3</span>
<span class="t xl" style="left:-4.08px;top:425px;transform:scaleY(1.09)"><span class="m">−</span><span class="o">1</span>.0</span>
<span class="t xl" style="left:46.62px;top:425px;transform:scaleY(1.09)"><span class="m">−</span>0.5</span>
<span class="t xl" style="left:97.32px;top:425px;transform:scaleY(1.09)">0.0</span>
<span class="t xl" style="left:148.03px;top:425px;transform:scaleY(1.09)">0.5</span>
<span class="t xl" style="left:198.78px;top:425px;transform:scaleY(1.09)"><span class="m">−</span>2</span>
<span class="t xl" style="left:249.51px;top:425px;transform:scaleY(1.09)"><span class="m">−</span><span class="o">1</span></span>
<span class="t xl" style="left:300.25px;top:425px;transform:scaleY(1.09)">0</span>
<span class="t xl" style="left:350.98px;top:425px;transform:scaleY(1.09)"><span class="o">1</span></span>
<span class="t xl" style="left:461.67px;top:425px;transform:scaleY(1.09)"><span class="m">−</span>3</span>
<span class="t xl" style="left:495.46px;top:425px;transform:scaleY(1.09)"><span class="m">−</span>2</span>
<span class="t xl" style="left:529.25px;top:425px;transform:scaleY(1.09)"><span class="m">−</span><span class="o">1</span></span>
<span class="t xl" style="left:563.05px;top:425px;transform:scaleY(1.09)">0</span>
<span class="t xl" style="left:596.84px;top:425px;transform:scaleY(1.09)"><span class="o">1</span></span>
<span class="t xl" style="left:630.63px;top:425px;transform:scaleY(1.09)">2</span>
<span class="t xl" style="left:664.42px;top:425px;transform:scaleY(1.09)">3</span>
<span class="t xl" style="left:-4.08px;top:688px;transform:scaleY(1.09)"><span class="m">−</span><span class="o">1</span>.0</span>
<span class="t xl" style="left:46.62px;top:688px;transform:scaleY(1.09)"><span class="m">−</span>0.5</span>
<span class="t xl" style="left:97.32px;top:688px;transform:scaleY(1.09)">0.0</span>
<span class="t xl" style="left:148.03px;top:688px;transform:scaleY(1.09)">0.5</span>
<span class="t xl" style="left:198.78px;top:688px;transform:scaleY(1.09)"><span class="m">−</span>2</span>
<span class="t xl" style="left:249.51px;top:688px;transform:scaleY(1.09)"><span class="m">−</span><span class="o">1</span></span>
<span class="t xl" style="left:300.25px;top:688px;transform:scaleY(1.09)">0</span>
<span class="t xl" style="left:350.98px;top:688px;transform:scaleY(1.09)"><span class="o">1</span></span>
<span class="t xl" style="left:461.67px;top:688px;transform:scaleY(1.09)"><span class="m">−</span>3</span>
<span class="t xl" style="left:495.46px;top:688px;transform:scaleY(1.09)"><span class="m">−</span>2</span>
<span class="t xl" style="left:529.25px;top:688px;transform:scaleY(1.09)"><span class="m">−</span><span class="o">1</span></span>
<span class="t xl" style="left:563.05px;top:688px;transform:scaleY(1.09)">0</span>
<span class="t xl" style="left:596.84px;top:688px;transform:scaleY(1.09)"><span class="o">1</span></span>
<span class="t xl" style="left:630.63px;top:688px;transform:scaleY(1.09)">2</span>
<span class="t xl" style="left:664.42px;top:688px;transform:scaleY(1.09)">3</span>
<span class="t cl" style="left:96.82px;top:104px">{<span class="o">1</span>, <span class="o">1</span>}</span>
<span class="t cl" style="left:299.75px;top:104px">{<span class="o">1</span>, 2}</span>
<span class="t cl" style="left:562.55px;top:104px">{<span class="o">1</span>, 3}</span>
<span class="t cl" style="left:96.82px;top:307px">{2, <span class="o">1</span>}</span>
<span class="t cl" style="left:299.75px;top:307px">{2, 2}</span>
<span class="t cl" style="left:562.55px;top:307px">{2, 3}</span>
<span class="t cl" style="left:96.82px;top:570px">{3, <span class="o">1</span>}</span>
<span class="t cl" style="left:299.75px;top:570px">{3, 2}</span>
<span class="t cl" style="left:562.55px;top:570px">{3, 3}</span>
</div>
</body></html>
